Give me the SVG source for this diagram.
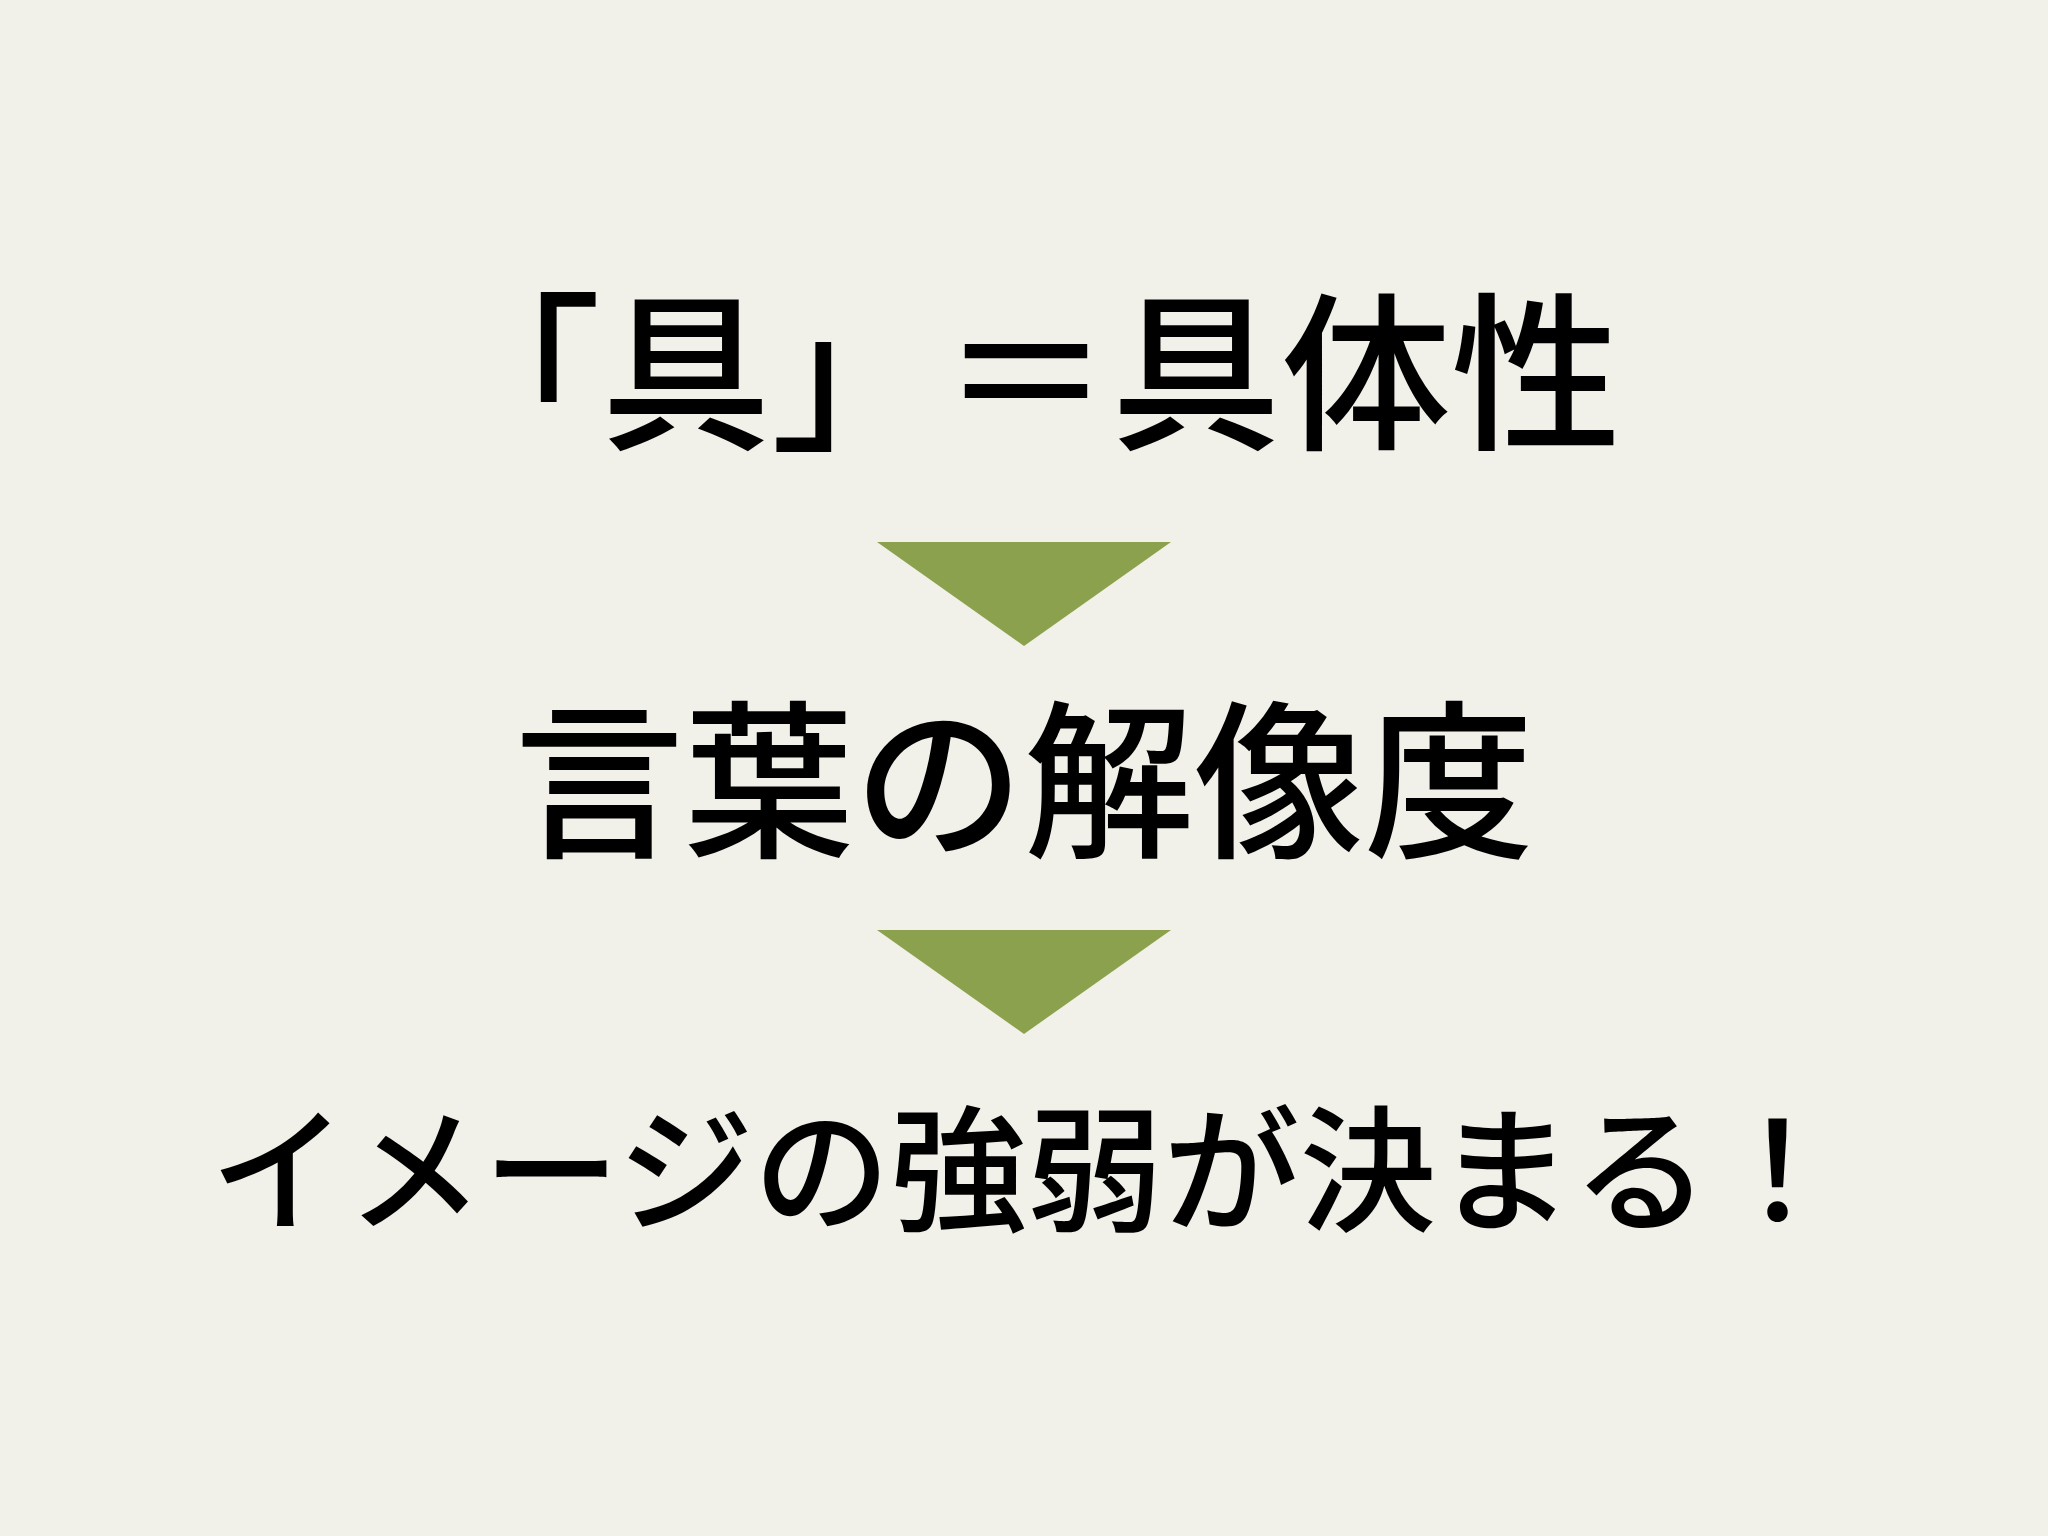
<svg xmlns="http://www.w3.org/2000/svg" width="2048" height="1536" viewBox="0 0 2048 1536">
<style>
.t{font-family:"Noto Sans CJK JP","Noto Sans CJK SC",sans-serif;font-weight:500;fill:#000;text-anchor:middle}
.arrow{fill:#8CA14D}
</style>
<rect width="2048" height="1536" fill="#F1F0E9"/>
<g id="line1"><text class="t" x="1026" y="437" font-size="170">「具」＝具体性</text></g>
<g id="arrow1"><polygon class="arrow" points="877,542 1171,542 1024,646"/></g>
<g id="line2"><text class="t" x="1024" y="845" font-size="170">言葉の解像度</text></g>
<g id="arrow2"><polygon class="arrow" points="877,930 1171,930 1024,1034"/></g>
<g id="line3"><text class="t" x="1028" y="1221" font-size="136.5">イメージの強弱が決まる！</text></g>
</svg>
